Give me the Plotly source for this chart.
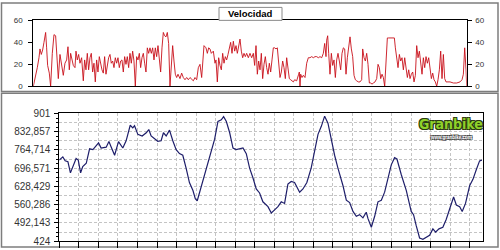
import plotly.graph_objects as go

# ---------------- DATA ----------------
# Velocity (km/h) vs sample position
vel_x = [0, 3, 8, 12, 17, 20, 24, 28, 32, 37, 40, 43, 48, 52, 57, 62, 67, 72, 75, 80, 85, 90, 95, 100, 104, 108, 112, 116, 120, 125,
         128, 132, 136, 140, 145, 150, 154, 158, 162, 166, 170, 174, 178, 182, 186, 190, 194, 198, 202, 206, 210, 214, 218, 222, 226,
         230, 234, 238, 242, 246, 250, 254, 258, 262, 266, 270, 274, 278, 282, 286, 290, 294, 298, 302, 306, 310, 314, 318, 322, 326,
         330, 334, 338, 342, 346, 350, 354, 358, 362, 366, 370, 374, 378, 382, 386, 390, 394, 398, 402, 406, 410, 414, 418, 422, 426,
         430, 434, 440, 445, 450, 455, 460, 465, 470, 475, 480, 485, 490, 495, 500, 505, 508, 512, 518, 522, 526, 530, 534, 540, 545,
         548, 552, 556, 560, 564, 568, 572, 576, 580, 584, 588, 592, 596, 600, 604, 608, 612, 616, 620, 624, 628, 632, 636, 640, 645,
         650, 655, 660, 664, 668, 672, 676, 680, 684, 688, 692, 696, 700, 704, 708, 712, 716, 720, 724, 728, 732, 736, 740, 744, 748,
         752, 756, 760, 764, 768, 772, 776, 780, 784, 790, 796, 798, 800, 802, 806, 810, 815, 820, 825, 830, 835, 840, 845, 850, 855,
         860, 865, 870, 874, 878, 880, 883, 886, 890, 894, 898, 902, 906, 910, 914, 918, 922, 926, 930, 934, 938, 942, 946, 950, 954,
         958, 962, 966, 970, 975, 980, 985, 988, 992, 996, 1000, 1004, 1008, 1012, 1016, 1020, 1025, 1030, 1034, 1038, 1042, 1046,
         1050, 1054, 1058, 1062, 1066, 1070, 1075, 1080, 1083, 1086, 1090, 1094, 1098, 1102, 1106, 1110, 1114, 1118, 1122, 1126,
         1130, 1134, 1138, 1142, 1146, 1150, 1154, 1158, 1162, 1166, 1170, 1174, 1178, 1182, 1186, 1190, 1194, 1198, 1202, 1206,
         1210, 1214, 1218, 1222, 1226, 1230, 1234, 1238, 1242, 1250, 1260, 1270, 1280, 1286, 1290, 1294, 1298, 1300]
vel_y = [0, 4, 13, 17, 26, 34, 29, 33, 40, 49, 35, 19, 12, 0, 30, 47, 46, 27, 7, 29, 17, 10, 21, 24, 36, 15, 30, 23, 19, 17,
         32, 24, 29, 21, 26, 5, 24, 15, 30, 15, 26, 30, 13, 21, 4, 24, 13, 27, 20, 15, 12, 27, 11, 19, 26,
         29, 21, 23, 17, 26, 21, 26, 17, 23, 24, 13, 27, 20, 27, 17, 30, 21, 32, 23, 0, 27, 24, 30, 17, 26,
         30, 21, 13, 35, 30, 35, 30, 35, 24, 35, 27, 37, 26, 13, 35, 49, 46, 45, 49, 39, 0, 21, 37, 23, 11,
         8, 11, 7, 12, 8, 6, 8, 6, 8, 6, 5, 8, 6, 17, 20, 8, 26, 37, 35, 30, 35, 34, 30, 32, 21,
         24, 4, 26, 19, 15, 30, 21, 27, 24, 29, 34, 40, 30, 41, 32, 37, 30, 38, 43, 32, 26, 30, 27, 30, 26,
         30, 26, 30, 19, 37, 11, 23, 15, 30, 7, 20, 27, 17, 11, 21, 13, 24, 35, 35, 34, 35, 24, 8, 13, 23,
         17, 7, 26, 15, 7, 6, 5, 4, 6, 5, 11, 13, 0, 11, 8, 10, 8, 21, 26, 26, 27, 26, 27, 27, 26,
         27, 26, 30, 39, 27, 42, 46, 30, 11, 30, 19, 24, 8, 24, 30, 23, 15, 30, 35, 34, 11, 26, 37, 45, 34,
         27, 10, 6, 5, 4, 4, 6, 34, 26, 23, 30, 20, 3, 3, 2, 3, 4, 7, 20, 17, 7, 11,
         8, 0, 27, 44, 44, 44, 44, 44, 44, 35, 23, 17, 29, 23, 26, 15, 26, 19, 8, 15,
         7, 11, 13, 4, 10, 37, 26, 32, 19, 11, 26, 17, 27, 21, 26, 15, 7, 12, 6, 4,
         0, 6, 15, 32, 7, 29, 7, 4, 4, 4, 3, 3, 4, 6, 11, 35, 15, 0]

# Elevation (m) vs distance (km)
alt_x = [0.00, 0.18, 0.30, 0.44, 0.57, 0.69, 0.86, 0.97, 1.09, 1.20, 1.38, 1.55, 1.72, 2.01, 2.14, 2.40, 2.54, 2.66, 2.83, 3.03,
         3.25, 3.42, 3.63, 3.76, 3.85, 4.02, 4.24, 4.45, 4.58, 4.70, 4.87, 5.04, 5.21, 5.33, 5.47, 5.64, 5.81, 5.98, 6.15, 6.32,
         6.49, 6.66, 6.84, 6.96, 7.06, 7.18, 7.43, 7.69, 7.95, 8.12, 8.29, 8.41, 8.55, 8.72, 8.89, 9.05, 9.22, 9.40, 9.57, 9.74,
         9.91, 10.08, 10.25, 10.42, 10.68, 10.85, 11.02, 11.19, 11.36, 11.53, 11.70, 11.87, 12.04, 12.16, 12.30, 12.47, 12.67,
         12.89, 13.06, 13.24, 13.41, 13.58, 13.75, 13.92, 14.09, 14.26, 14.52, 14.69, 14.86, 15.03, 15.20, 15.37, 15.54, 15.71,
         15.80, 15.97, 16.14, 16.31, 16.48, 16.65, 16.82, 16.99, 17.16, 17.28, 17.50, 17.76, 18.01, 18.13, 18.27, 18.44, 18.61,
         18.78, 18.95, 19.12, 19.26, 19.43, 19.63, 19.80, 19.98, 20.18, 20.32, 20.49, 20.62, 20.79, 21.00, 21.17, 21.34, 21.51, 21.63]
alt_y = [727, 739, 724, 721, 679, 703, 733, 727, 679, 703, 715, 769, 766, 791, 772, 775, 796, 775, 745, 796,
         772, 799, 857, 847, 855, 823, 817, 829, 841, 817, 808, 797, 799, 829, 817, 839, 799, 766, 751, 745,
         697, 643, 613, 583, 575, 607, 673, 739, 805, 871, 877, 889, 871, 829, 772, 766, 769, 772, 751, 697,
         661, 619, 604, 571, 553, 529, 541, 553, 571, 565, 637, 647, 643, 625, 607, 619, 643,
         697, 757, 823, 853, 891, 865, 799, 745, 697, 631, 577, 568, 535, 517, 523, 511, 532,
         508, 476, 517, 571, 577, 607, 661, 709, 736, 731, 673, 613, 535, 523, 481, 436, 431,
         440, 446, 470, 458, 470, 476, 505, 547, 589, 559, 553, 535, 565, 631, 655, 691, 724, 727]

alt_tickvals = [424, 492.143, 560.286, 628.429, 696.571, 764.714, 832.857, 901]
alt_ticktext = ["424", "492,143", "560,286", "628,429", "696,571", "764,714", "832,857", "901"]
vel_tickvals = [0, 20, 40, 60]
title_text = "Velocidad"
logo_text = "Granbike"
logo_sub = "www.granbike.com"

# ---------------- LAYOUT HELPERS ----------------
W, H = 500, 250
def px(x):
    return x / W
def py(y):
    return 1 - y / H

FONT = "Liberation Sans, Arial, sans-serif"
GRID = "#c4c4c4"

fig = go.Figure()

fig.add_trace(go.Scatter(x=vel_x, y=vel_y, mode="lines", xaxis="x", yaxis="y",
                         line=dict(color="#c8101a", width=0.9), hoverinfo="skip", showlegend=False))
fig.add_trace(go.Scatter(x=alt_x, y=alt_y, mode="lines", xaxis="x2", yaxis="y3",
                         line=dict(color="#1e1e6a", width=1.2), hoverinfo="skip", showlegend=False))

top_xd = [px(33.3), px(466.7)]
top_yd = [py(84.7), py(16)]
bot_xd = [px(59.3), px(483.3)]
bot_yd = [py(246), py(113)]

span = alt_tickvals[-1] - alt_tickvals[0]
minor_vals = [alt_tickvals[0] + span * k / 28 for k in range(29)]
grid_vals = [alt_tickvals[0] + span * k / 14 for k in range(15)]

fig.update_layout(
    width=W, height=H, autosize=False,
    margin=dict(l=0, r=0, t=0, b=0),
    paper_bgcolor="white", plot_bgcolor="white",
    font=dict(family=FONT, color="#333333"),
    xaxis=dict(domain=top_xd, anchor="y", range=[0, 1300], showgrid=False, zeroline=False,
               showticklabels=False, ticks="", showline=True, linecolor="#000", linewidth=1, mirror=True),
    yaxis=dict(domain=top_yd, anchor="x", range=[0, 60], tickvals=vel_tickvals, showgrid=False, zeroline=False,
               ticks="outside", ticklen=4, tickcolor="#000", showline=True, linecolor="#000", linewidth=1,
               tickfont=dict(size=8, color="#333"), ticklabelstandoff=4),
    yaxis2=dict(overlaying="y", anchor="x", side="right", range=[0, 60], tickvals=vel_tickvals, showgrid=False,
                zeroline=False, ticks="outside", ticklen=4, tickcolor="#000", showline=True, linecolor="#000",
                linewidth=1, tickfont=dict(size=8, color="#333"), ticklabelstandoff=2),
    xaxis2=dict(domain=bot_xd, anchor="y3", range=[0, 21.7], dtick=1, tick0=0, showticklabels=False,
                ticks="outside", ticklen=6, tickcolor="#000", showgrid=True, gridcolor=GRID, griddash="3px,2px",
                gridwidth=1, zeroline=False, showline=True, linecolor="#000", linewidth=1, mirror=True),
    yaxis3=dict(domain=bot_yd, anchor="x2", range=[alt_tickvals[0], alt_tickvals[-1]], tickmode="array",
                tickvals=alt_tickvals, ticktext=alt_ticktext, ticks="outside", ticklen=4, tickcolor="#000",
                showgrid=False, zeroline=False, showline=True, linecolor="#000", linewidth=1, mirror=True,
                tickfont=dict(size=10, color="#333"), ticklabelstandoff=2,
                minor=dict(tickmode="array", tickvals=minor_vals, ticks="outside", ticklen=2, tickcolor="#000",
                           showgrid=False)),
    yaxis4=dict(overlaying="y3", anchor="x2", range=[alt_tickvals[0], alt_tickvals[-1]], tickmode="array",
                tickvals=grid_vals, showticklabels=False, ticks="", showgrid=True, gridcolor=GRID,
                griddash="3px,2px", gridwidth=1, zeroline=False, showline=False),
)

# dummy traces so overlay axes render
fig.add_trace(go.Scatter(x=[None], y=[None], xaxis="x", yaxis="y2", showlegend=False, hoverinfo="skip"))
fig.add_trace(go.Scatter(x=[None], y=[None], xaxis="x2", yaxis="y4", showlegend=False, hoverinfo="skip"))

# panel frames
frame_col = "#7d7d7d"
fig.add_shape(type="rect", xref="paper", yref="paper", x0=px(1.5), x1=px(498), y0=py(90), y1=py(-2),
              line=dict(color=frame_col, width=1.5), fillcolor="rgba(0,0,0,0)", layer="below")
fig.add_shape(type="rect", xref="paper", yref="paper", x0=px(1.5), x1=px(498), y0=py(252), y1=py(92),
              line=dict(color=frame_col, width=1.5), fillcolor="rgba(0,0,0,0)", layer="below")

# title box
fig.add_shape(type="rect", xref="paper", yref="paper", x0=px(219), x1=px(282), y0=py(16), y1=py(2.5),
              line=dict(color="#8a8a8a", width=1), fillcolor="white", layer="above")
fig.add_annotation(xref="paper", yref="paper", x=px(250.5), y=py(9.2), text="<b>%s</b>" % title_text,
                   showarrow=False, font=dict(family=FONT, size=9.5, color="#000"), xanchor="center", yanchor="middle")

# logo
fig.add_annotation(xref="paper", yref="paper", x=px(450.5), y=py(124), text="<b>%s</b>" % logo_text,
                   showarrow=False, xanchor="center", yanchor="middle",
                   font=dict(family="DejaVu Sans Condensed, Liberation Sans Narrow, Arial Narrow, sans-serif",
                             size=14, color="#8fd12a",
                             shadow="-1px -1px 0 #2a3a10, 1px -1px 0 #2a3a10, -1px 1px 0 #2a3a10, 1px 1px 0 #2a3a10"))
fig.add_annotation(xref="paper", yref="paper", x=px(451), y=py(137.5), text="<b>%s</b>" % logo_sub,
                   showarrow=False, xanchor="center", yanchor="middle",
                   font=dict(family=FONT, size=4.5, color="#ffffff",
                             shadow="-1px -1px 0 #333, 1px -1px 0 #333, -1px 1px 0 #333, 1px 1px 0 #333"))

fig.write_html("out.html")
